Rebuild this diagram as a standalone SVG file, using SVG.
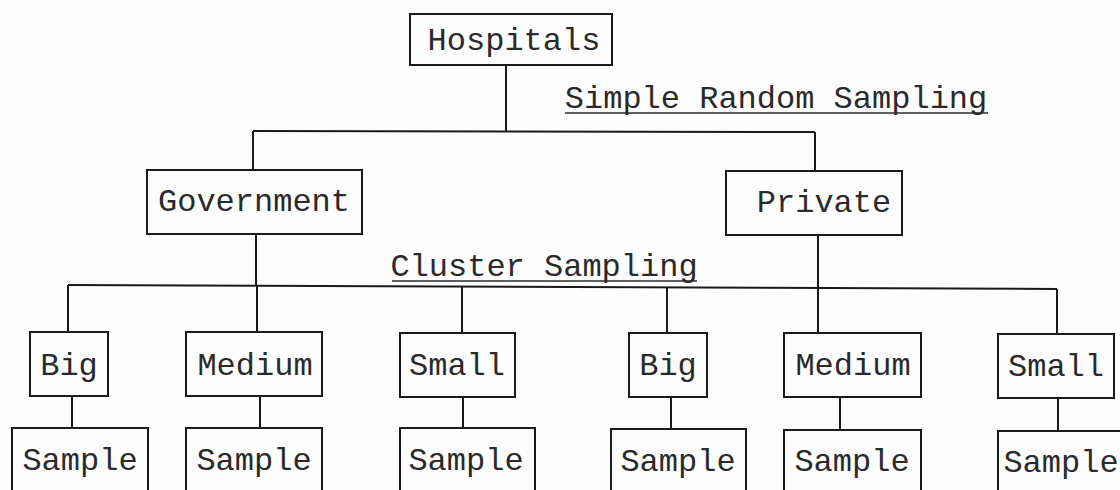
<svg xmlns="http://www.w3.org/2000/svg" width="1120" height="490" viewBox="0 0 1120 490">
  <style>
    .box { fill: none; stroke: #1a1a1a; stroke-width: 2; }
    .ln { fill: none; stroke: #1a1a1a; stroke-width: 2; }
    .t { font-family: "Liberation Mono", "Courier New", monospace; font-size: 32px; fill: #2a2a2a; text-anchor: middle; }
    .ul { stroke: #2a2a2a; stroke-width: 1.5; }
  </style>
  <rect width="1120" height="490" fill="#fdfdfd"/>

  <g id="connectors">
    <line class="ln" x1="506" y1="65" x2="506" y2="131"/>
    <line class="ln" x1="253" y1="131" x2="815" y2="132"/>
    <line class="ln" x1="253" y1="131" x2="253" y2="170"/>
    <line class="ln" x1="815" y1="132" x2="815" y2="171"/>
    <line class="ln" x1="256" y1="234" x2="256" y2="286"/>
    <line class="ln" x1="818" y1="235" x2="818" y2="333"/>
    <line class="ln" x1="68" y1="285" x2="1057" y2="289"/>
    <line class="ln" x1="68" y1="285" x2="68" y2="332"/>
    <line class="ln" x1="257" y1="286" x2="257" y2="332"/>
    <line class="ln" x1="462" y1="286" x2="462" y2="333"/>
    <line class="ln" x1="667" y1="287" x2="667" y2="333"/>
    <line class="ln" x1="1057" y1="289" x2="1057" y2="334"/>
    <line class="ln" x1="72" y1="396" x2="72" y2="428"/>
    <line class="ln" x1="260" y1="396" x2="260" y2="428"/>
    <line class="ln" x1="463" y1="397" x2="463" y2="428"/>
    <line class="ln" x1="671" y1="397" x2="671" y2="429"/>
    <line class="ln" x1="840" y1="397" x2="840" y2="430"/>
    <line class="ln" x1="1058" y1="398" x2="1058" y2="431"/>
  </g>

  <g id="label-srs">
    <text class="t" x="776" y="108">Simple Random Sampling</text>
    <line class="ul" x1="565" y1="113" x2="988" y2="113"/>
  </g>
  <g id="label-cluster">
    <text class="t" x="544" y="276">Cluster Sampling</text>
    <line class="ul" x1="392" y1="281" x2="697" y2="281"/>
  </g>

  <g id="hospitals">
    <rect class="box" x="410" y="14" width="202" height="51"/>
    <text class="t" x="514" y="50">Hospitals</text>
  </g>
  <g id="government">
    <rect class="box" x="147" y="170" width="215" height="64"/>
    <text class="t" x="254" y="211">Government</text>
  </g>
  <g id="private">
    <rect class="box" x="726" y="171" width="176" height="64"/>
    <text class="t" x="824" y="212">Private</text>
  </g>

  <g id="gov-big">
    <rect class="box" x="30" y="332" width="78" height="64"/>
    <text class="t" x="69" y="375">Big</text>
  </g>
  <g id="gov-medium">
    <rect class="box" x="186" y="332" width="136" height="64"/>
    <text class="t" x="255" y="375">Medium</text>
  </g>
  <g id="gov-small">
    <rect class="box" x="400" y="333" width="115" height="64"/>
    <text class="t" x="457" y="375">Small</text>
  </g>
  <g id="pri-big">
    <rect class="box" x="629" y="333" width="78" height="64"/>
    <text class="t" x="668" y="375">Big</text>
  </g>
  <g id="pri-medium">
    <rect class="box" x="784" y="333" width="137" height="64"/>
    <text class="t" x="853" y="375">Medium</text>
  </g>
  <g id="pri-small">
    <rect class="box" x="998" y="334" width="116" height="64"/>
    <text class="t" x="1056" y="376">Small</text>
  </g>

  <g id="sample-1">
    <rect class="box" x="12" y="428" width="136" height="80"/>
    <text class="t" x="80" y="470">Sample</text>
  </g>
  <g id="sample-2">
    <rect class="box" x="186" y="428" width="136" height="80"/>
    <text class="t" x="254" y="470">Sample</text>
  </g>
  <g id="sample-3">
    <rect class="box" x="400" y="428" width="135" height="80"/>
    <text class="t" x="466" y="470">Sample</text>
  </g>
  <g id="sample-4">
    <rect class="box" x="611" y="429" width="135" height="80"/>
    <text class="t" x="678" y="471">Sample</text>
  </g>
  <g id="sample-5">
    <rect class="box" x="784" y="430" width="137" height="80"/>
    <text class="t" x="852" y="471">Sample</text>
  </g>
  <g id="sample-6">
    <rect class="box" x="998" y="431" width="140" height="80"/>
    <text class="t" x="1061" y="472">Sample</text>
  </g>
</svg>
